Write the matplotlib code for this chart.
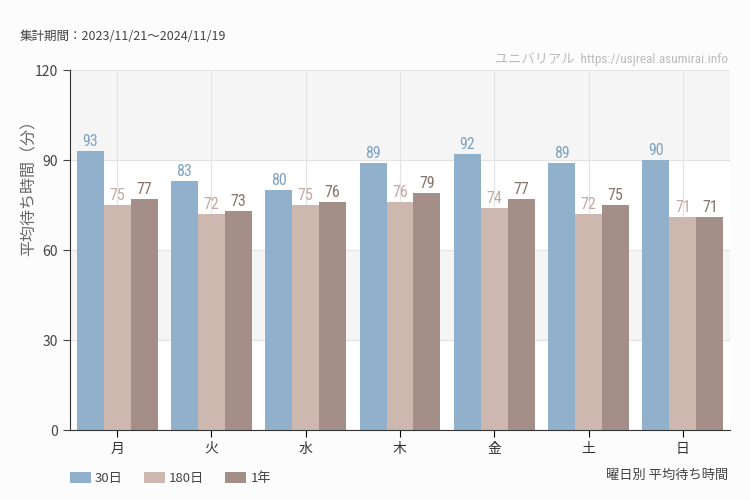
import numpy as np
import matplotlib.pyplot as plt
from matplotlib import font_manager

plt.rcParams['font.family'] = ['Noto Sans CJK JP', 'DejaVu Sans']

days = ['月', '火', '水', '木', '金', '土', '日']
series_names = ['30日', '180日', '1年']
wait_30 = [93, 83, 80, 89, 92, 89, 90]
wait_180 = [75, 72, 75, 76, 74, 72, 71]
wait_1y = [77, 73, 76, 79, 77, 75, 71]

bar_colors = ['#91b0cb', '#cdb8b0', '#a48f88']
label_colors = ['#7fa2c2', '#c2aaa1', '#86736c']

# pick a narrow font for the value labels if one is installed
installed = {f.name for f in font_manager.fontManager.ttflist}
narrow = 'DejaVu Sans'
for cand in ['Liberation Sans Narrow', 'DejaVu Sans Condensed', 'Roboto Condensed', 'Open Sans Condensed']:
    if cand in installed:
        narrow = cand
        break
narrow_fp = dict(family=[narrow, 'Noto Sans CJK JP', 'DejaVu Sans'])
if narrow == 'DejaVu Sans':
    narrow_fp['stretch'] = 'condensed'

fig = plt.figure(figsize=(7.5, 5), dpi=100, facecolor='#fbfcfb')
ax = fig.add_axes([70 / 750, 70 / 500, 660 / 750, 360 / 500])
ax.set_facecolor('white')

# alternating bands
for lo, hi in [(30, 60), (90, 120)]:
    ax.axhspan(lo, hi, color='#f4f5f4', zorder=0)

x = np.arange(len(days))
w = 0.286
for i, (vals, c, lc) in enumerate(zip([wait_30, wait_180, wait_1y], bar_colors, label_colors)):
    pos = x + (i - 1) * w
    ax.bar(pos, vals, width=w, color=c, label=series_names[i], zorder=2)
    for p, v in zip(pos, vals):
        ax.text(p, v + 0.6, str(v), ha='center', va='bottom', color=lc,
                fontsize=11.5, zorder=3, **narrow_fp)

ax.set_xlim(-0.5, len(days) - 0.5)
ax.set_ylim(0, 120)
ax.set_yticks([0, 30, 60, 90, 120])
ax.set_xticks(x)
ax.set_xticklabels(days, fontsize=10, color='#333333')
ax.tick_params(axis='y', labelsize=10, colors='#444444', length=5)
ax.tick_params(axis='x', length=5)
ax.grid(True, color='#e3e3e3', linewidth=0.8, zorder=1)
ax.set_axisbelow(True)
for s in ['top', 'right']:
    ax.spines[s].set_visible(False)
ax.spines['left'].set_color('#333333')
ax.spines['bottom'].set_color('#333333')
ax.set_ylabel('平均待ち時間（分）', fontsize=11.5, color='#666666')
ax.yaxis.set_label_coords(-0.049, 0.683)

fig.text(20 / 750, 1 - 37 / 500, '集計期間：2023/11/21～2024/11/19', fontsize=9, color='#444444', va='center')
fig.text(728 / 750, 1 - 59 / 500, 'ユニバリアル  https://usjreal.asumirai.info', fontsize=9.5,
         color='#bbbbbb', ha='right', va='center', **narrow_fp)
fig.text(728 / 750, 1 - 475 / 500, '曜日別 平均待ち時間', fontsize=9.5, color='#444444', ha='right', va='center')

ax.legend(loc='upper left', bbox_to_anchor=(58 / 750, 1 - 460 / 500), bbox_transform=fig.transFigure,
          ncol=3, frameon=False, fontsize=9.5, handlelength=1.6, handleheight=0.9,
          handletextpad=0.3, columnspacing=1.6, labelcolor='#444444')

fig.savefig('out.png', dpi=100, facecolor=fig.get_facecolor())
